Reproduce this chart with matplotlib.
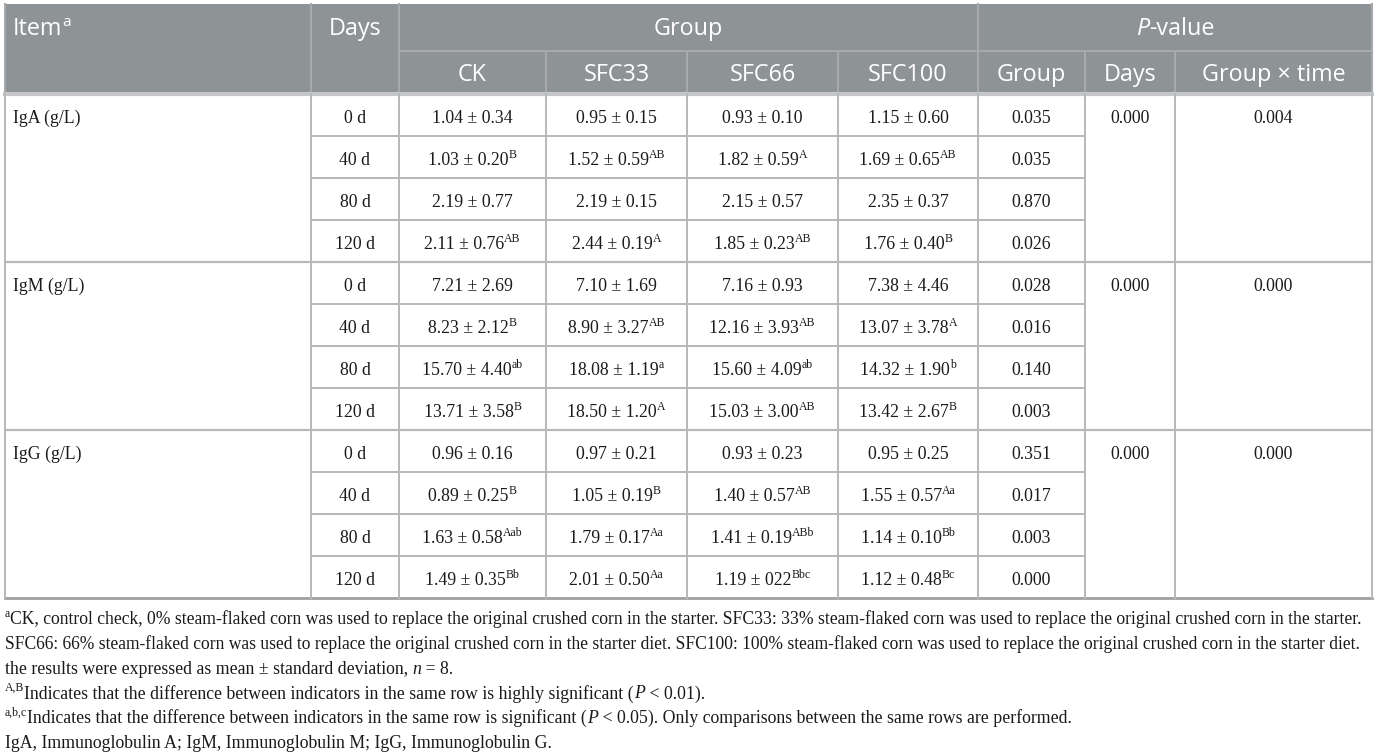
import matplotlib
matplotlib.use("Agg")
import matplotlib.pyplot as plt
from matplotlib.patches import Rectangle

# Table content
items = ["IgA (g/L)", "IgM (g/L)", "IgG (g/L)"]
days = ["0 d", "40 d", "80 d", "120 d"]
groups = ["CK", "SFC33", "SFC66", "SFC100"]
p_cols = ["Group", "Days", "Group \u00d7 time"]

iga = [["1.04 ± 0.34", "0.95 ± 0.15", "0.93 ± 0.10", "1.15 ± 0.60"],
       ["1.03 ± 0.20", "1.52 ± 0.59", "1.82 ± 0.59", "1.69 ± 0.65"],
       ["2.19 ± 0.77", "2.19 ± 0.15", "2.15 ± 0.57", "2.35 ± 0.37"],
       ["2.11 ± 0.76", "2.44 ± 0.19", "1.85 ± 0.23", "1.76 ± 0.40"]]
iga_sup = [["", "", "", ""],
           ["B", "AB", "A", "AB"],
           ["", "", "", ""],
           ["AB", "A", "AB", "B"]]

igm = [["7.21 ± 2.69", "7.10 ± 1.69", "7.16 ± 0.93", "7.38 ± 4.46"],
       ["8.23 ± 2.12", "8.90 ± 3.27", "12.16 ± 3.93", "13.07 ± 3.78"],
       ["15.70 ± 4.40", "18.08 ± 1.19", "15.60 ± 4.09", "14.32 ± 1.90"],
       ["13.71 ± 3.58", "18.50 ± 1.20", "15.03 ± 3.00", "13.42 ± 2.67"]]
igm_sup = [["", "", "", ""],
           ["B", "AB", "AB", "A"],
           ["ab", "a", "ab", "b"],
           ["B", "A", "AB", "B"]]

igg = [["0.96 ± 0.16", "0.97 ± 0.21", "0.93 ± 0.23", "0.95 ± 0.25"],
       ["0.89 ± 0.25", "1.05 ± 0.19", "1.40 ± 0.57", "1.55 ± 0.57"],
       ["1.63 ± 0.58", "1.79 ± 0.17", "1.41 ± 0.19", "1.14 ± 0.10"],
       ["1.49 ± 0.35", "2.01 ± 0.50", "1.19 ± 022", "1.12 ± 0.48"]]
igg_sup = [["", "", "", ""],
           ["B", "B", "AB", "Aa"],
           ["Aab", "Aa", "ABb", "Bb"],
           ["Bb", "Aa", "Bbc", "Bc"]]

p_group = [["0.035", "0.035", "0.870", "0.026"],
           ["0.028", "0.016", "0.140", "0.003"],
           ["0.351", "0.017", "0.003", "0.000"]]
p_days = ["0.000", "0.000", "0.000"]
p_inter = ["0.004", "0.000", "0.000"]

# footnotes as runs: (text, kind) with kind n / sup / it
footnotes = [
    [("a", "sup"), ("CK, control check, 0% steam-flaked corn was used to replace the original crushed corn "
                    "in the starter. SFC33: 33% steam-flaked corn was used to replace the original crushed "
                    "corn in the starter.", "n")],
    [("SFC66: 66% steam-flaked corn was used to replace the original crushed corn in the starter diet. "
      "SFC100: 100% steam-flaked corn was used to replace the original crushed corn in the starter diet.", "n")],
    [("the results were expressed as mean ± standard deviation, ", "n"), ("n", "it"), (" = 8.", "n")],
    [("A,B", "sup"), ("Indicates that the difference between indicators in the same row is highly "
                      "significant (", "n"), ("P", "it"), (" < 0.01).", "n")],
    [("a,b,c", "sup"), ("Indicates that the difference between indicators in the same row is significant (", "n"),
     ("P", "it"), (" < 0.05). Only comparisons between the same rows are performed.", "n")],
    [("IgA, Immunoglobulin A; IgM, Immunoglobulin M; IgG, Immunoglobulin G.", "n")],
]

values = [iga, igm, igg]
sups = [iga_sup, igm_sup, igg_sup]

# Layout (pixels)
W, H = 1375, 755
col_x = [5, 311, 399, 546, 687, 838, 978, 1085, 1175, 1372]
y_top, y_mid, y_head = 4, 51, 94
row_h = 42
head_bg = "#8e9396"
head_line = "#a6aaad"
body_line = "#b8b8b8"
txt = "#1a1a1a"
sans = "Open Sans"
serif = "Liberation Serif"
fs_head = 16.8
fs_body = 12.8

fig = plt.figure(figsize=(W / 100, H / 100), dpi=100)
ax = fig.add_axes([0, 0, 1, 1])
ax.set_xlim(0, W)
ax.set_ylim(H, 0)
ax.axis("off")
rend = fig.canvas.get_renderer()


def runs(x, cy, parts, family, size, color, ha="left", max_w=None):
    def build(sz):
        px = sz * 100 / 72
        base = cy + 0.34 * px
        objs = []
        for s, kind in parts:
            if kind == "sup":
                t = ax.text(0, base - 0.42 * px, s, fontsize=sz * 0.66, family=family,
                            color=color, va="baseline", ha="left")
            else:
                t = ax.text(0, base, s, fontsize=sz, family=family, color=color,
                            style="italic" if kind == "it" else "normal",
                            va="baseline", ha="left")
            objs.append(t)
        return objs, [t.get_window_extent(rend).width for t in objs]

    objs, widths = build(size)
    if max_w is not None and sum(widths) > max_w:
        new = size * max_w / sum(widths)
        for t in objs:
            t.remove()
        objs, widths = build(new)
    total = sum(widths)
    x0 = x - total / 2 if ha == "center" else x
    for t, w in zip(objs, widths):
        t.set_x(x0)
        x0 += w


# header
ax.add_patch(Rectangle((col_x[0], y_top), col_x[-1] - col_x[0], y_head - y_top,
                       facecolor=head_bg, edgecolor="none"))
ax.plot([col_x[2], col_x[-1]], [y_mid, y_mid], color=head_line, lw=1.5)
for i, x in enumerate(col_x):
    if i in (0, 1, 2, 6, 9):
        ax.plot([x, x], [y_top, y_head], color=head_line, lw=1.5)
    else:
        ax.plot([x, x], [y_mid, y_head], color=head_line, lw=1.5)

ty = (y_top + y_mid) / 2
runs(col_x[0] + 8, ty, [("Item", "n"), ("a", "sup")], sans, fs_head, "white")
runs((col_x[1] + col_x[2]) / 2, ty, [("Days", "n")], sans, fs_head, "white", "center")
runs((col_x[2] + col_x[6]) / 2, ty, [("Group", "n")], sans, fs_head, "white", "center")
runs((col_x[6] + col_x[9]) / 2, ty, [("P", "it"), ("-value", "n")], sans, fs_head,
     "white", "center")
sy = (y_mid + y_head) / 2 + 1
for j, name in enumerate(groups + p_cols):
    runs((col_x[j + 2] + col_x[j + 3]) / 2, sy, [(name, "n")], sans, fs_head,
         "white", "center")

# body grid
n_rows = len(items) * len(days)
y_bot = y_head + n_rows * row_h
ax.plot([col_x[0], col_x[-1]], [y_head, y_head], color="#c4c6c8", lw=3)
for i in range(1, n_rows):
    y = y_head + i * row_h
    if i % len(days) == 0:
        ax.plot([col_x[0], col_x[-1]], [y, y], color=body_line, lw=1.6)
    else:
        ax.plot([col_x[1], col_x[7]], [y, y], color=body_line, lw=1.4)
ax.plot([col_x[0], col_x[-1]], [y_bot, y_bot], color="#a0a0a0", lw=2)
for x in col_x:
    ax.plot([x, x], [y_head, y_bot], color=body_line, lw=1.4)

# body text
off = row_h / 2 + 2
for g, item in enumerate(items):
    y0 = y_head + g * len(days) * row_h
    cy0 = y0 + off
    runs(col_x[0] + 8, cy0, [(item, "n")], serif, fs_body, txt)
    runs((col_x[7] + col_x[8]) / 2, cy0, [(p_days[g], "n")], serif, fs_body, txt, "center")
    runs((col_x[8] + col_x[9]) / 2, cy0, [(p_inter[g], "n")], serif, fs_body, txt, "center")
    for r, d in enumerate(days):
        cy = y0 + r * row_h + off
        runs((col_x[1] + col_x[2]) / 2, cy, [(d, "n")], serif, fs_body, txt, "center")
        for c in range(len(groups)):
            parts = [(values[g][r][c], "n")]
            if sups[g][r][c]:
                parts.append((sups[g][r][c], "sup"))
            runs((col_x[c + 2] + col_x[c + 3]) / 2, cy, parts, serif, fs_body, txt, "center")
        runs((col_x[6] + col_x[7]) / 2, cy, [(p_group[g][r], "n")], serif, fs_body,
             txt, "center")

# footnotes
for k, line in enumerate(footnotes):
    runs(col_x[0], 618 + k * 24.8, line, serif, fs_body, txt, max_w=1360)

fig.savefig("out.png", dpi=100)
